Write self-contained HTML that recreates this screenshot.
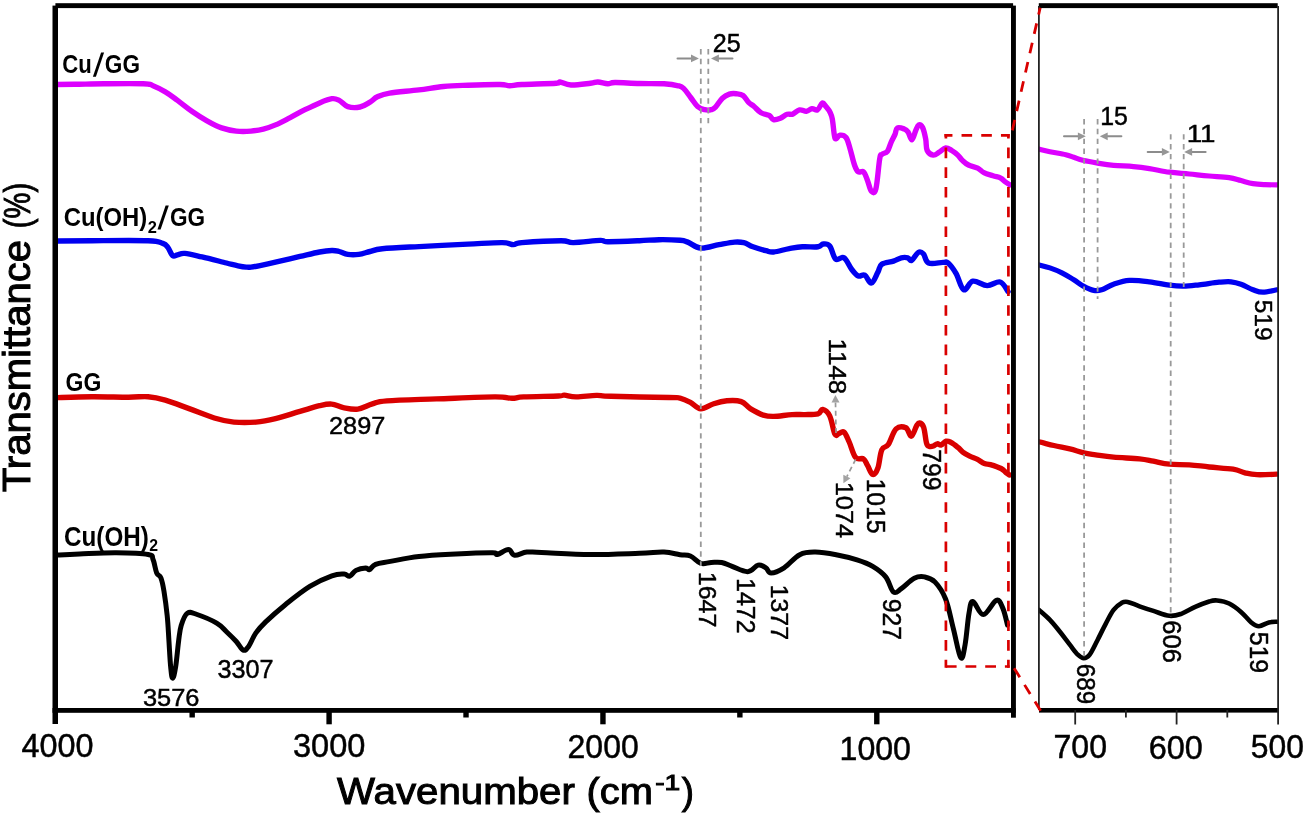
<!DOCTYPE html>
<html><head><meta charset="utf-8"><title>FTIR spectra</title>
<style>
html,body{margin:0;padding:0;background:#fff;}
body{width:1306px;height:815px;overflow:hidden;font-family:"Liberation Sans",sans-serif;}
svg{display:block;will-change:transform;}
</style></head><body>
<svg width="1306" height="815" viewBox="0 0 1306 815">
<defs>
<clipPath id="cl"><rect x="55" y="5" width="957" height="705"/></clipPath>
<clipPath id="cr"><rect x="1039" y="5" width="239" height="705"/></clipPath>
</defs>
<rect width="1306" height="815" fill="#fff"/>
<g clip-path="url(#cl)">
<path d="M56.5,84.5 C59.8,84.5 66.0,84.4 74.6,84.3 C83.1,84.2 91.7,83.9 104.0,83.8 C116.3,83.7 134.4,83.5 143.2,83.8 C152.0,84.1 149.0,84.2 153.0,85.7 C157.0,87.2 160.9,89.3 165.3,91.9 C169.7,94.5 172.7,96.9 177.5,100.4 C182.3,103.9 186.9,107.8 192.2,111.5 C197.5,115.2 201.7,117.8 207.0,120.8 C212.3,123.8 216.3,126.0 221.6,127.9 C226.9,129.8 231.0,130.5 236.3,131.1 C241.6,131.7 246.1,131.5 251.0,131.1 C255.9,130.7 258.9,130.2 263.3,129.1 C267.7,128.0 270.7,127.0 275.5,124.9 C280.3,122.8 284.9,120.3 290.2,117.6 C295.5,114.9 299.7,112.3 305.0,109.7 C310.3,107.1 314.8,104.9 319.6,102.9 C324.4,100.9 328.4,99.2 331.9,98.7 C335.4,98.2 336.3,99.0 339.2,100.4 C342.1,101.8 344.1,105.4 347.8,106.6 C351.5,107.8 356.0,107.8 360.0,107.0 C364.0,106.2 366.9,103.9 370.0,102.1 C373.1,100.3 373.9,98.4 377.4,96.8 C380.9,95.2 382.1,94.3 389.6,93.1 C397.1,91.9 409.3,91.1 419.0,89.9 C428.7,88.7 434.7,87.3 443.5,86.5 C452.3,85.7 457.8,85.6 468.0,85.2 C478.2,84.8 492.4,84.4 499.9,84.5 C507.4,84.6 505.7,85.7 509.7,85.7 C513.7,85.7 513.5,84.9 521.9,84.5 C530.3,84.1 549.3,83.8 556.2,83.3 C563.1,82.8 557.3,81.7 560.0,82.0 C562.7,82.3 565.5,84.8 571.0,85.0 C576.5,85.2 585.7,83.8 590.5,83.3 C595.3,82.8 594.8,81.9 597.9,82.0 C601.0,82.1 604.6,83.7 607.7,83.8 C610.8,83.9 609.3,82.6 615.0,82.5 C620.7,82.4 630.7,83.3 639.5,83.5 C648.3,83.7 657.0,83.4 664.0,83.8 C671.0,84.2 674.7,84.9 678.3,85.8 C681.9,86.7 681.6,86.5 683.8,88.6 C686.0,90.7 688.2,94.3 690.7,97.5 C693.2,100.7 695.1,104.3 697.6,106.5 C700.1,108.7 702.0,109.1 704.5,109.7 C707.0,110.3 709.3,110.2 711.3,109.7 C713.3,109.2 713.5,109.3 715.5,107.2 C717.5,105.1 719.9,100.6 722.4,98.2 C724.9,95.8 726.8,94.9 729.3,94.1 C731.8,93.3 733.7,93.4 736.2,93.7 C738.7,94.0 740.8,93.9 743.0,95.5 C745.2,97.1 746.6,100.4 748.6,102.4 C750.6,104.4 751.9,104.6 754.1,106.5 C756.3,108.4 758.3,111.1 761.0,112.7 C763.7,114.3 767.0,114.2 769.2,115.4 C771.4,116.6 771.4,119.1 773.4,119.6 C775.4,120.1 777.8,119.2 780.3,118.2 C782.8,117.2 784.9,115.0 787.1,114.3 C789.3,113.6 790.5,114.9 792.7,114.1 C794.9,113.3 797.0,110.4 799.5,109.9 C802.0,109.4 804.1,111.5 806.4,111.3 C808.6,111.1 810.0,108.9 812.0,108.6 C814.0,108.3 815.6,110.9 817.5,109.9 C819.4,108.9 820.8,103.6 822.3,103.0 C823.8,102.4 824.7,105.1 826.1,106.8 C827.5,108.5 828.9,110.0 830.0,112.2 C831.1,114.4 831.5,114.8 832.3,119.1 C833.1,123.4 833.8,132.5 834.5,136.0 C835.2,139.5 835.1,138.8 836.1,138.7 C837.1,138.6 838.1,135.4 839.9,135.2 C841.7,135.0 844.2,135.2 846.0,137.5 C847.8,139.8 848.4,143.2 849.9,148.2 C851.4,153.1 853.0,160.7 854.5,165.0 C856.0,169.3 856.7,170.7 858.3,171.9 C859.9,173.1 861.9,170.4 863.6,171.9 C865.3,173.4 866.1,176.9 867.5,180.4 C868.9,183.9 869.8,189.6 871.3,191.1 C872.8,192.6 874.4,194.6 875.9,188.8 C877.4,183.0 878.6,165.1 879.7,158.9 C880.8,152.7 880.6,155.7 882.0,154.3 C883.4,152.9 885.7,153.5 887.4,151.3 C889.1,149.1 889.8,145.1 891.2,142.1 C892.6,139.1 893.9,136.9 895.0,134.4 C896.1,131.9 895.6,129.0 897.3,128.0 C899.0,127.0 902.3,128.3 904.2,129.0 C906.1,129.7 906.7,130.2 908.1,132.1 C909.5,134.0 910.5,140.1 911.9,139.8 C913.3,139.5 914.5,133.3 915.7,130.6 C916.9,127.9 917.6,125.5 918.8,124.9 C920.0,124.3 921.4,125.0 922.6,127.5 C923.8,130.0 924.9,134.9 925.7,139.0 C926.5,143.1 925.8,147.6 927.2,150.5 C928.6,153.4 931.1,154.8 933.3,155.1 C935.5,155.4 937.2,153.3 939.4,152.0 C941.6,150.7 943.4,148.2 945.6,147.9 C947.8,147.6 949.5,149.2 951.7,150.5 C953.9,151.8 955.9,153.3 957.8,155.1 C959.7,156.9 960.5,158.6 962.4,160.4 C964.3,162.2 965.7,163.6 968.5,165.0 C971.3,166.4 974.9,166.7 977.7,168.1 C980.5,169.5 981.1,171.3 983.9,172.7 C986.7,174.1 990.0,174.8 993.0,175.8 C996.0,176.8 998.5,177.0 1000.7,178.1 C1002.9,179.2 1003.6,180.7 1005.3,181.9 C1007.0,183.1 1009.1,184.4 1009.9,184.9" fill="none" stroke="#dc00ff" stroke-width="5.4" stroke-linejoin="round" stroke-linecap="round"/>
<path d="M57.5,241.0 C63.7,240.9 75.5,240.8 91.8,240.7 C108.1,240.6 135.3,240.2 148.1,240.7 C160.9,241.2 159.3,242.2 162.8,243.4 C166.3,244.6 165.9,244.9 167.7,247.1 C169.5,249.3 170.8,254.2 172.6,255.6 C174.4,257.0 175.3,255.3 177.5,254.9 C179.7,254.5 180.5,253.0 184.9,253.4 C189.3,253.8 194.5,255.2 202.0,256.9 C209.5,258.6 220.0,261.4 226.5,263.0 C233.0,264.6 234.5,265.1 238.0,265.8 C241.5,266.5 243.8,266.9 246.1,267.1 C248.4,267.3 248.5,267.4 251.0,267.1 C253.5,266.8 255.6,266.5 260.0,265.6 C264.4,264.7 268.3,263.9 275.5,262.2 C282.7,260.5 292.1,258.2 300.0,256.4 C307.9,254.6 313.9,253.1 319.6,252.0 C325.3,250.9 328.4,250.6 331.9,250.5 C335.4,250.4 336.3,250.8 339.2,251.5 C342.1,252.2 344.3,253.9 347.8,254.4 C351.3,254.9 354.8,254.9 358.8,254.4 C362.8,253.9 365.8,252.5 370.0,251.5 C374.2,250.5 373.5,249.7 382.3,248.8 C391.1,247.9 403.6,247.4 419.0,246.6 C434.4,245.8 453.0,244.8 468.0,244.1 C483.0,243.4 494.1,242.5 502.3,242.6 C510.5,242.7 509.8,244.6 513.3,244.6 C516.8,244.6 513.3,243.3 521.9,242.6 C530.5,241.9 551.8,240.7 561.1,240.7 C570.4,240.7 566.3,242.7 573.4,242.6 C580.5,242.5 594.1,240.6 600.3,240.4 C606.5,240.2 600.6,241.6 607.7,241.7 C614.8,241.8 630.2,241.1 639.5,240.7 C648.8,240.3 651.8,239.8 659.1,239.7 C666.4,239.6 674.8,239.9 680.0,240.3 C685.2,240.7 684.1,240.7 687.8,242.1 C691.5,243.5 695.2,247.6 700.8,248.1 C706.4,248.6 712.9,245.8 719.0,244.7 C725.1,243.6 730.2,242.5 734.7,242.1 C739.2,241.7 740.5,241.9 743.8,242.7 C747.1,243.5 748.9,245.4 752.9,246.8 C756.9,248.2 762.2,249.8 765.9,250.7 C769.6,251.6 769.5,252.4 773.7,252.0 C777.9,251.6 784.1,249.5 789.3,248.6 C794.5,247.7 797.2,247.1 802.4,246.8 C807.6,246.5 814.3,247.3 818.0,246.8 C821.7,246.3 821.1,244.1 823.2,244.0 C825.3,243.9 827.5,243.3 829.7,246.0 C832.0,248.7 833.1,257.0 835.7,259.1 C838.3,261.2 841.1,255.8 844.0,257.7 C846.9,259.6 849.2,266.2 851.8,269.5 C854.4,272.8 856.0,275.0 858.3,276.0 C860.6,277.0 862.4,273.9 864.8,275.2 C867.2,276.5 869.0,283.6 871.4,283.0 C873.8,282.4 876.0,275.5 877.9,272.1 C879.8,268.7 879.0,266.3 881.8,264.3 C884.6,262.3 890.0,262.3 893.5,261.1 C897.0,259.9 898.7,258.4 901.3,257.8 C903.9,257.2 905.9,257.3 907.8,257.8 C909.7,258.3 909.8,261.4 911.7,260.4 C913.6,259.4 916.1,253.7 918.2,252.5 C920.3,251.3 921.5,251.9 923.4,253.8 C925.3,255.7 925.1,261.5 928.6,263.0 C932.1,264.5 939.5,262.4 943.0,262.4 C946.5,262.4 945.9,261.0 948.2,263.0 C950.5,265.0 953.2,268.6 956.0,273.4 C958.8,278.2 960.8,288.4 963.8,289.8 C966.8,291.2 968.7,282.0 972.9,281.2 C977.1,280.4 982.3,285.5 987.2,285.6 C992.1,285.7 996.5,280.9 1000.2,282.0 C1003.9,283.1 1006.6,289.9 1008.0,291.6" fill="none" stroke="#0000f0" stroke-width="5.4" stroke-linejoin="round" stroke-linecap="round"/>
<path d="M57.5,397.6 C63.7,397.4 79.0,396.8 91.8,396.7 C104.6,396.6 118.4,397.2 128.5,397.2 C138.6,397.2 141.5,396.2 148.1,396.7 C154.7,397.2 157.8,397.9 165.3,400.1 C172.8,402.3 181.0,405.7 189.8,408.9 C198.6,412.1 206.4,415.6 214.3,418.0 C222.2,420.4 226.4,421.4 233.9,422.1 C241.4,422.8 248.4,422.7 255.9,422.1 C263.4,421.5 267.6,420.6 275.5,418.7 C283.4,416.8 292.1,413.7 300.0,411.4 C307.9,409.1 313.9,407.0 319.6,405.7 C325.3,404.4 327.3,403.8 331.6,404.1 C335.9,404.4 338.6,406.7 343.3,407.6 C348.0,408.5 352.6,409.8 357.8,409.1 C363.0,408.4 367.2,405.4 372.4,403.9 C377.6,402.4 375.4,401.8 386.9,400.9 C398.4,400.0 417.0,399.6 436.4,398.9 C455.8,398.2 481.0,397.0 494.6,396.9 C508.2,396.8 506.8,398.3 512.0,398.3 C517.2,398.3 515.3,397.3 523.7,396.9 C532.1,396.5 551.3,396.3 558.6,396.0 C565.9,395.7 561.3,394.9 564.4,395.1 C567.5,395.3 570.2,396.8 576.0,396.9 C581.8,397.0 590.1,395.5 596.4,395.4 C602.7,395.3 597.9,395.9 611.0,396.3 C624.1,396.7 656.7,397.2 669.1,397.5 C681.5,397.8 676.2,397.3 680.0,398.2 C683.8,399.1 686.7,400.5 690.4,402.4 C694.1,404.3 696.6,408.7 700.8,408.9 C705.0,409.1 709.1,405.2 713.8,403.7 C718.5,402.2 722.0,401.2 726.9,400.8 C731.8,400.4 737.0,400.2 741.2,401.6 C745.4,403.0 746.3,406.2 750.3,408.6 C754.3,411.0 759.1,413.7 763.3,415.1 C767.5,416.5 768.5,416.5 773.7,416.4 C778.9,416.3 786.4,414.9 792.0,414.6 C797.6,414.3 800.3,414.7 805.0,414.6 C809.7,414.5 814.8,414.7 818.0,413.8 C821.2,412.9 820.6,409.0 822.7,409.4 C824.8,409.8 827.5,411.5 829.7,415.9 C831.9,420.3 833.3,430.9 834.9,434.1 C836.5,437.3 837.2,434.0 838.8,433.6 C840.4,433.2 842.1,430.6 844.0,432.1 C845.9,433.6 847.1,437.4 849.2,442.0 C851.3,446.6 853.1,454.6 855.7,457.6 C858.3,460.6 861.4,457.5 863.5,458.9 C865.6,460.3 865.8,462.6 867.5,465.4 C869.2,468.2 870.8,474.0 872.7,474.5 C874.6,475.0 876.3,472.4 877.9,468.0 C879.5,463.6 879.9,454.0 881.8,449.8 C883.7,445.6 885.7,448.4 888.3,444.6 C890.9,440.8 892.9,431.9 896.1,428.9 C899.3,425.9 903.2,426.5 905.9,427.8 C908.6,429.1 909.4,436.5 911.3,436.2 C913.2,435.9 915.0,428.4 916.5,426.0 C918.0,423.6 918.2,422.8 919.5,423.0 C920.8,423.2 922.3,423.6 923.6,427.2 C924.9,430.8 925.5,439.5 926.5,443.0 C927.5,446.5 928.2,445.9 929.4,446.4 C930.6,446.9 932.0,446.5 933.4,446.0 C934.8,445.5 935.9,444.0 937.3,443.8 C938.7,443.6 939.6,445.5 941.2,445.0 C942.8,444.5 944.3,441.7 946.1,441.2 C947.9,440.7 948.9,441.3 951.0,442.4 C953.1,443.5 955.8,445.7 957.9,447.4 C960.0,449.1 960.7,450.5 962.8,452.1 C964.9,453.7 967.1,454.9 969.7,456.2 C972.3,457.5 974.9,458.1 977.5,459.4 C980.1,460.7 982.1,462.7 984.4,463.6 C986.7,464.5 987.3,463.7 990.3,464.6 C993.3,465.5 998.3,467.1 1001.1,468.5 C1003.9,469.9 1004.5,471.4 1006.0,472.6 C1007.5,473.8 1008.9,474.6 1009.5,475.0" fill="none" stroke="#d90000" stroke-width="5.4" stroke-linejoin="round" stroke-linecap="round"/>
<path d="M57.5,555.0 C61.5,554.8 68.9,554.4 79.5,554.0 C90.1,553.6 104.0,552.7 116.3,552.8 C128.6,552.9 141.5,553.3 148.1,554.5 C154.7,555.7 151.5,556.1 153.0,559.4 C154.5,562.7 155.3,569.6 156.7,572.9 C158.1,576.2 159.6,574.5 160.9,577.8 C162.2,581.1 162.9,584.5 164.0,591.3 C165.1,598.1 166.3,607.0 167.2,615.8 C168.1,624.6 168.3,631.0 168.9,640.3 C169.5,649.6 170.0,660.4 170.7,667.2 C171.4,674.0 171.7,678.2 172.6,678.2 C173.5,678.2 174.5,674.0 175.6,667.2 C176.7,660.4 177.7,647.8 178.7,640.3 C179.7,632.8 179.7,630.5 181.2,625.6 C182.7,620.7 184.4,615.3 187.3,613.3 C190.2,611.3 191.8,612.7 197.1,614.5 C202.4,616.3 211.4,620.0 216.7,623.1 C222.0,626.2 223.0,628.4 226.5,631.7 C230.0,635.0 233.3,638.2 236.3,641.5 C239.3,644.8 241.0,649.2 243.2,650.1 C245.4,651.0 246.3,649.5 248.6,646.4 C250.9,643.3 252.8,637.3 255.9,632.9 C259.0,628.5 260.4,627.0 265.7,621.9 C271.0,616.8 277.4,611.1 285.3,604.7 C293.2,598.3 301.4,591.6 309.8,586.4 C318.2,581.2 325.7,578.0 331.9,575.8 C338.1,573.6 340.9,574.0 344.1,574.1 C347.3,574.2 347.7,576.8 349.8,576.1 C351.9,575.4 353.1,571.9 356.0,570.4 C358.9,568.9 363.4,568.1 365.8,568.0 C368.2,567.9 367.6,570.4 369.4,569.7 C371.2,569.0 371.8,565.8 375.6,564.3 C379.4,562.8 382.5,562.8 390.3,561.4 C398.1,560.0 407.2,557.8 419.0,556.5 C430.8,555.2 442.6,554.7 455.8,554.0 C469.0,553.3 485.0,552.7 492.5,552.8 C500.0,552.9 494.5,555.1 497.4,554.5 C500.3,553.9 505.3,549.5 508.4,549.6 C511.5,549.7 511.3,554.8 514.6,555.2 C517.9,555.7 522.0,552.6 526.8,552.1 C531.6,551.6 530.0,552.1 541.5,552.5 C553.0,552.9 572.9,554.4 590.5,554.5 C608.1,554.6 626.3,553.7 639.5,553.3 C652.7,552.9 656.7,551.8 664.0,552.1 C671.3,552.4 675.2,554.0 680.0,554.7 C684.8,555.4 686.7,554.5 690.4,556.0 C694.1,557.5 697.1,562.1 700.8,563.3 C704.5,564.5 707.4,562.6 711.2,562.5 C715.0,562.4 717.9,561.8 721.7,562.5 C725.5,563.2 727.4,564.7 732.1,566.4 C736.8,568.1 743.0,571.9 747.7,571.7 C752.4,571.5 754.8,565.8 758.1,565.1 C761.4,564.4 763.6,566.4 765.9,567.8 C768.2,569.2 767.8,573.0 771.1,573.0 C774.4,573.0 778.9,571.1 784.1,567.8 C789.3,564.5 794.2,557.5 799.8,554.7 C805.4,551.9 808.8,552.1 815.4,552.1 C822.0,552.1 828.7,553.3 836.2,554.7 C843.7,556.1 850.4,557.8 857.0,559.9 C863.6,562.0 867.5,563.3 872.7,566.4 C877.9,569.5 882.0,572.3 885.7,576.9 C889.4,581.5 890.7,589.9 893.5,592.0 C896.3,594.1 897.6,591.1 901.3,588.6 C905.0,586.1 910.1,580.3 914.3,578.2 C918.5,576.1 921.0,576.2 924.7,576.9 C928.4,577.6 931.3,578.1 935.1,582.1 C938.9,586.1 942.3,590.6 945.6,599.0 C948.9,607.4 950.7,618.4 953.4,628.9 C956.1,639.4 958.6,654.8 960.7,657.6 C962.8,660.4 963.6,652.6 965.1,644.6 C966.6,636.6 967.6,621.0 969.0,613.3 C970.4,605.6 970.3,601.4 972.9,601.6 C975.5,601.8 979.1,614.8 983.3,614.6 C987.5,614.4 992.8,601.5 996.3,600.3 C999.8,599.1 1000.8,603.7 1002.8,608.1 C1004.8,612.5 1006.7,622.0 1007.5,625.0" fill="none" stroke="#000000" stroke-width="5.0" stroke-linejoin="round" stroke-linecap="round"/>
</g>
<g clip-path="url(#cr)">
<path d="M1039.0,149.1 C1041.0,149.6 1045.1,150.7 1049.9,151.7 C1054.7,152.7 1061.5,153.7 1065.8,154.7 C1070.1,155.7 1070.7,156.3 1073.8,157.3 C1076.9,158.3 1078.5,159.3 1082.8,160.3 C1087.1,161.3 1092.2,162.2 1097.7,163.1 C1103.2,164.0 1107.2,164.7 1113.6,165.3 C1120.0,165.9 1127.1,166.0 1133.5,166.6 C1139.9,167.2 1142.9,167.6 1149.4,168.6 C1155.9,169.6 1162.2,171.2 1169.4,172.2 C1176.6,173.2 1182.1,173.3 1189.3,174.0 C1196.5,174.7 1202.0,175.4 1209.2,176.0 C1216.4,176.6 1223.4,176.8 1229.1,177.6 C1234.8,178.4 1236.7,179.5 1241.0,180.6 C1245.3,181.7 1248.7,182.9 1253.0,183.6 C1257.3,184.3 1260.6,184.4 1264.9,184.6 C1269.2,184.8 1274.7,184.8 1276.9,184.8" fill="none" stroke="#dc00ff" stroke-width="5.2" stroke-linejoin="round" stroke-linecap="round"/>
<path d="M1039.0,264.9 C1041.0,265.4 1045.8,266.5 1049.9,267.9 C1054.0,269.3 1057.6,270.7 1061.9,272.8 C1066.2,274.9 1069.9,277.4 1073.8,279.8 C1077.7,282.2 1080.2,284.5 1083.8,286.4 C1087.4,288.3 1090.5,289.8 1093.7,290.4 C1096.9,291.0 1098.1,290.9 1101.7,289.8 C1105.3,288.7 1108.6,285.9 1113.6,284.2 C1118.6,282.5 1123.1,280.8 1129.5,280.4 C1135.9,280.0 1142.2,280.9 1149.4,281.8 C1156.6,282.7 1163.3,284.4 1169.4,285.2 C1175.5,286.0 1177.9,286.3 1183.3,286.2 C1188.7,286.1 1192.8,285.5 1199.2,284.8 C1205.6,284.1 1213.4,282.7 1219.1,282.2 C1224.8,281.7 1227.2,281.4 1231.1,281.8 C1235.0,282.2 1237.1,282.8 1241.0,284.2 C1244.9,285.6 1249.1,288.4 1253.0,289.8 C1256.9,291.2 1258.6,292.2 1262.9,292.2 C1267.2,292.2 1274.4,290.2 1276.9,289.8" fill="none" stroke="#0000f0" stroke-width="5.2" stroke-linejoin="round" stroke-linecap="round"/>
<path d="M1039.0,441.9 C1041.7,442.5 1048.4,444.2 1053.9,445.5 C1059.4,446.8 1064.4,447.6 1069.8,448.9 C1075.2,450.2 1079.1,451.7 1083.8,452.8 C1088.5,453.9 1090.3,454.0 1095.7,454.8 C1101.1,455.6 1105.7,456.5 1113.6,457.2 C1121.5,457.9 1132.3,458.1 1139.5,458.8 C1146.7,459.5 1148.0,460.2 1153.4,461.2 C1158.8,462.2 1162.9,463.6 1169.4,464.2 C1175.9,464.8 1182.1,464.3 1189.3,464.8 C1196.5,465.3 1201.3,466.2 1209.2,467.0 C1217.1,467.8 1226.7,468.2 1233.1,469.2 C1239.5,470.2 1240.7,471.8 1245.0,472.8 C1249.3,473.8 1251.3,474.4 1257.0,474.7 C1262.7,475.0 1273.3,474.3 1276.9,474.2" fill="none" stroke="#d90000" stroke-width="5.3" stroke-linejoin="round" stroke-linecap="round"/>
<path d="M1039.0,609.9 C1041.0,611.7 1046.1,615.9 1049.9,619.8 C1053.7,623.7 1056.3,627.3 1059.9,631.8 C1063.5,636.3 1066.6,640.6 1069.8,644.7 C1073.0,648.8 1075.3,652.3 1077.8,654.7 C1080.3,657.1 1081.7,658.2 1083.8,658.2 C1085.9,658.2 1087.2,658.0 1089.7,654.7 C1092.2,651.4 1094.8,645.3 1097.7,639.7 C1100.6,634.1 1102.8,629.2 1105.7,623.8 C1108.6,618.4 1110.7,613.7 1113.6,609.9 C1116.5,606.1 1119.1,604.3 1121.6,602.9 C1124.1,601.5 1124.4,601.3 1127.6,601.9 C1130.8,602.5 1134.9,604.7 1139.5,606.3 C1144.1,607.9 1148.0,609.2 1153.4,610.9 C1158.8,612.6 1164.4,615.3 1169.4,615.8 C1174.4,616.3 1176.7,615.4 1181.3,613.8 C1185.9,612.2 1190.2,609.1 1195.2,606.9 C1200.2,604.7 1205.3,602.7 1209.2,601.5 C1213.1,600.3 1213.5,600.1 1217.1,600.5 C1220.7,600.9 1224.8,601.4 1229.1,603.5 C1233.4,605.6 1237.1,608.5 1241.0,611.9 C1244.9,615.3 1247.8,619.6 1251.0,622.2 C1254.2,624.8 1255.7,626.2 1258.9,626.2 C1262.1,626.2 1265.7,623.2 1268.9,622.4 C1272.1,621.6 1275.5,621.9 1276.9,621.8" fill="none" stroke="#000000" stroke-width="4.6" stroke-linejoin="round" stroke-linecap="round"/>
</g>
<line x1="700.8" y1="49.0" x2="700.8" y2="566" stroke="#999" stroke-width="1.8" stroke-dasharray="5.4 4.45" stroke-dashoffset="0"/>
<line x1="708.3" y1="49.0" x2="708.3" y2="125" stroke="#999" stroke-width="1.8" stroke-dasharray="5.4 4.45" stroke-dashoffset="0"/>
<line x1="1084.1" y1="119" x2="1084.1" y2="660" stroke="#999" stroke-width="1.8" stroke-dasharray="5.4 4.45" stroke-dashoffset="0"/>
<line x1="1097.6" y1="119" x2="1097.6" y2="299" stroke="#999" stroke-width="1.8" stroke-dasharray="5.4 4.45" stroke-dashoffset="0"/>
<line x1="1170.7" y1="134.2" x2="1170.7" y2="617" stroke="#999" stroke-width="1.8" stroke-dasharray="5.4 4.45" stroke-dashoffset="0"/>
<line x1="1183.7" y1="134.2" x2="1183.7" y2="287" stroke="#999" stroke-width="1.8" stroke-dasharray="5.4 4.45" stroke-dashoffset="0"/>
<line x1="677.5" y1="58.4" x2="692.00" y2="58.40" stroke="#8c8c8c" stroke-width="2.0" stroke-linecap="round"/>
<polygon points="698.90,58.40 691.00,62.30 691.00,54.50" fill="#969696"/>
<line x1="732.5" y1="58.4" x2="717.90" y2="58.40" stroke="#8c8c8c" stroke-width="2.0" stroke-linecap="round"/>
<polygon points="711.00,58.40 718.90,54.50 718.90,62.30" fill="#969696"/>
<line x1="1064" y1="136.3" x2="1078.90" y2="136.30" stroke="#8c8c8c" stroke-width="2.0" stroke-linecap="round"/>
<polygon points="1085.80,136.30 1077.90,140.20 1077.90,132.40" fill="#969696"/>
<line x1="1121.4" y1="136.3" x2="1106.70" y2="136.30" stroke="#8c8c8c" stroke-width="2.0" stroke-linecap="round"/>
<polygon points="1099.80,136.30 1107.70,132.40 1107.70,140.20" fill="#969696"/>
<line x1="1147.7" y1="151.9" x2="1162.90" y2="151.90" stroke="#8c8c8c" stroke-width="2.0" stroke-linecap="round"/>
<polygon points="1169.80,151.90 1161.90,155.80 1161.90,148.00" fill="#969696"/>
<line x1="1205.6" y1="151.9" x2="1191.10" y2="151.90" stroke="#8c8c8c" stroke-width="2.0" stroke-linecap="round"/>
<polygon points="1184.20,151.90 1192.10,148.00 1192.10,155.80" fill="#969696"/>
<line x1="836" y1="433" x2="835.52" y2="402.50" stroke="#999" stroke-width="1.7" stroke-dasharray="5 3.6"/>
<polygon points="835.40,394.90 839.52,402.44 831.52,402.56" fill="#a3a3a3"/>
<line x1="855.7" y1="459.3" x2="846.87" y2="476.54" stroke="#999" stroke-width="1.7" stroke-dasharray="5 3.6"/>
<polygon points="843.40,483.30 843.31,474.71 850.43,478.36" fill="#a3a3a3"/>
<g stroke="#d90000" stroke-width="2.7" fill="none">
<line x1="944.4" y1="135.4" x2="1009.7" y2="135.4" stroke-dasharray="10.6 9.1" stroke-dashoffset="2.55"/>
<line x1="944.4" y1="666.5" x2="1009.7" y2="666.5" stroke-dasharray="10.8 8.9" stroke-dashoffset="18.3"/>
<line x1="945.9" y1="133.9" x2="945.9" y2="667.8" stroke-dasharray="10.6 9.1" stroke-dashoffset="6.0"/>
<line x1="1008.4" y1="133.9" x2="1008.4" y2="667.8" stroke-dasharray="10.6 9.1" stroke-dashoffset="6.0"/>
</g>
<g fill="#000">
<rect x="52.5" y="5.6" width="5.5" height="718.4"/>
<rect x="55.4" y="3.2" width="957.7" height="4.9"/>
<rect x="1011" y="5.6" width="4.9" height="712.1"/>
<rect x="52.5" y="708" width="963.2" height="4.8"/>
<rect x="326.40" y="708" width="5.4" height="16.3"/>
<rect x="600.25" y="708" width="5.4" height="16.3"/>
<rect x="874.10" y="708" width="5.4" height="16.3"/>
<rect x="189.47" y="708" width="5.4" height="9.5"/>
<rect x="463.32" y="708" width="5.4" height="9.5"/>
<rect x="737.17" y="708" width="5.4" height="9.5"/>
<rect x="1038.8" y="3.2" width="238.9" height="4.9"/>
<rect x="1039" y="708" width="240" height="4.6"/>
</g>
<g stroke="#222" stroke-width="1.8">
<line x1="1038.9" y1="6" x2="1038.9" y2="710"/>
<line x1="1278.1" y1="6" x2="1278.1" y2="724.5"/>
<line x1="1075.20" y1="710" x2="1075.20" y2="724.5"/>
<line x1="1176.60" y1="710" x2="1176.60" y2="724.5"/>
<line x1="1125.90" y1="710" x2="1125.90" y2="717.5"/>
<line x1="1227.30" y1="710" x2="1227.30" y2="717.5"/>
</g>
<line x1="1040.2" y1="7.7" x2="1011.2" y2="135.4" stroke="#d90000" stroke-width="2.8" stroke-dasharray="10.77 9.02" stroke-dashoffset="3.69"/>
<line x1="1040.6" y1="710.7" x2="1012.5" y2="665.5" stroke="#d90000" stroke-width="2.8" stroke-dasharray="10.7 9.0"/>
<g font-family="Liberation Sans, sans-serif" fill="#000">
<g transform="matrix(1.0124 0 0 1.0531 30.38 492.12)"><text x="0" y="0" font-size="38" font-weight="normal" stroke="#000" stroke-width="1.0" transform="rotate(-90)">Transmittance</text></g>
<g transform="matrix(0.9567 0 0 0.7670 30.10 228.18)"><text x="0" y="0" font-size="38" font-weight="normal" stroke="#000" stroke-width="1.0" transform="rotate(-90)">(%)</text></g>
<g transform="matrix(1.0878 0 0 1.0022 337.05 803.53)"><text x="0" y="0" font-size="37" font-weight="normal" stroke="#000" stroke-width="1.0">Wavenumber</text></g>
<g transform="matrix(1.0776 0 0 0.9744 586.54 804.14)"><text x="0" y="0" font-size="37" font-weight="normal" stroke="#000" stroke-width="1.0">(cm</text></g>
<g transform="matrix(1.2238 0 0 0.9678 655.21 790.45)"><text x="0" y="0" font-size="23" font-weight="normal" stroke="#000" stroke-width="1.0">-1</text></g>
<g transform="matrix(0.9911 0 0 1.0184 681.70 803.97)"><text x="0" y="0" font-size="37" font-weight="normal" stroke="#000" stroke-width="1.0">)</text></g>
<g transform="matrix(1.0441 0 0 1.0767 21.50 757.35)"><text x="0" y="0" font-size="31" font-weight="normal" stroke="#000" stroke-width="0.45">4000</text></g>
<g transform="matrix(1.0502 0 0 1.0589 292.97 757.44)"><text x="0" y="0" font-size="31" font-weight="normal" stroke="#000" stroke-width="0.45">3000</text></g>
<g transform="matrix(1.0326 0 0 1.0533 567.57 757.74)"><text x="0" y="0" font-size="31" font-weight="normal" stroke="#000" stroke-width="0.45">2000</text></g>
<g transform="matrix(1.0360 0 0 1.0767 839.52 759.61)"><text x="0" y="0" font-size="31" font-weight="normal" stroke="#000" stroke-width="0.45">1000</text></g>
<g transform="matrix(1.0354 0 0 1.0493 1053.45 758.35)"><text x="0" y="0" font-size="31" font-weight="normal" stroke="#000" stroke-width="0.45">700</text></g>
<g transform="matrix(1.0470 0 0 1.0664 1148.65 759.04)"><text x="0" y="0" font-size="31" font-weight="normal" stroke="#000" stroke-width="0.45">600</text></g>
<g transform="matrix(1.0282 0 0 1.0542 1250.71 757.73)"><text x="0" y="0" font-size="31" font-weight="normal" stroke="#000" stroke-width="0.45">500</text></g>
<g transform="matrix(0.9214 0 0 1.1068 62.34 72.70)"><text x="0" y="0" font-size="24" font-weight="bold">Cu</text></g>
<g transform="matrix(0.9410 0 0 1.1068 104.83 72.70)"><text x="0" y="0" font-size="24" font-weight="bold">GG</text></g>
<g transform="matrix(0.9945 0 0 1.1068 63.65 226.22)"><text x="0" y="0" font-size="24" font-weight="bold">Cu(OH)</text></g>
<g transform="matrix(0.9953 0 0 1.0252 147.81 232.70)"><text x="0" y="0" font-size="16.5" font-weight="bold">2</text></g>
<g transform="matrix(0.9410 0 0 1.1068 170.05 226.22)"><text x="0" y="0" font-size="24" font-weight="bold">GG</text></g>
<g transform="matrix(0.9582 0 0 1.1127 65.51 391.00)"><text x="0" y="0" font-size="24" font-weight="bold">GG</text></g>
<g transform="matrix(1.0106 0 0 1.1429 64.06 545.60)"><text x="0" y="0" font-size="24" font-weight="bold">Cu(OH)</text></g>
<g transform="matrix(0.9602 0 0 1.0185 149.24 551.41)"><text x="0" y="0" font-size="16.5" font-weight="bold">2</text></g>
<g transform="matrix(1.0556 0 0 1.0120 328.97 433.93)"><text x="0" y="0" font-size="24" font-weight="normal" stroke="#000" stroke-width="0.45">2897</text></g>
<g transform="matrix(1.0601 0 0 1.0343 142.89 705.94)"><text x="0" y="0" font-size="24" font-weight="normal" stroke="#000" stroke-width="0.45">3576</text></g>
<g transform="matrix(1.0514 0 0 1.0637 217.50 677.75)"><text x="0" y="0" font-size="24" font-weight="normal" stroke="#000" stroke-width="0.45">3307</text></g>
<g transform="matrix(1.0456 0 0 1.0463 712.81 52.35)"><text x="0" y="0" font-size="24" font-weight="normal" stroke="#000" stroke-width="0.45">25</text></g>
<g transform="matrix(1.0375 0 0 1.0637 1100.24 124.52)"><text x="0" y="0" font-size="24" font-weight="normal" stroke="#000" stroke-width="0.45">15</text></g>
<g transform="matrix(1.1555 0 0 0.9826 1186.65 141.55)"><text x="0" y="0" font-size="24" font-weight="normal" stroke="#000" stroke-width="0.45">11</text></g>
<g transform="matrix(1.0185 0 0 1.0802 829.10 338.51)"><text x="0" y="0" font-size="24" font-weight="normal" stroke="#000" stroke-width="0.45" transform="rotate(90)">1148</text></g>
<g transform="matrix(1.0024 0 0 1.0589 836.31 481.73)"><text x="0" y="0" font-size="24" font-weight="normal" stroke="#000" stroke-width="0.45" transform="rotate(90)">1074</text></g>
<g transform="matrix(1.0621 0 0 1.0312 867.03 478.56)"><text x="0" y="0" font-size="24" font-weight="normal" stroke="#000" stroke-width="0.45" transform="rotate(90)">1015</text></g>
<g transform="matrix(1.0710 0 0 1.0313 923.11 449.27)"><text x="0" y="0" font-size="24" font-weight="normal" stroke="#000" stroke-width="0.45" transform="rotate(90)">799</text></g>
<g transform="matrix(1.0185 0 0 1.0421 698.51 571.75)"><text x="0" y="0" font-size="24" font-weight="normal" stroke="#000" stroke-width="0.45" transform="rotate(90)">1647</text></g>
<g transform="matrix(1.0352 0 0 1.0421 736.52 578.05)"><text x="0" y="0" font-size="24" font-weight="normal" stroke="#000" stroke-width="0.45" transform="rotate(90)">1472</text></g>
<g transform="matrix(1.0024 0 0 1.0402 770.58 584.50)"><text x="0" y="0" font-size="24" font-weight="normal" stroke="#000" stroke-width="0.45" transform="rotate(90)">1377</text></g>
<g transform="matrix(1.0710 0 0 1.0340 883.11 598.77)"><text x="0" y="0" font-size="24" font-weight="normal" stroke="#000" stroke-width="0.45" transform="rotate(90)">927</text></g>
<g transform="matrix(1.0024 0 0 1.0215 1255.17 299.68)"><text x="0" y="0" font-size="24" font-weight="normal" stroke="#000" stroke-width="0.45" transform="rotate(90)">519</text></g>
<g transform="matrix(1.1103 0 0 1.0097 1076.75 663.81)"><text x="0" y="0" font-size="24" font-weight="normal" stroke="#000" stroke-width="0.45" transform="rotate(90)">689</text></g>
<g transform="matrix(1.1090 0 0 1.0627 1163.36 620.34)"><text x="0" y="0" font-size="24" font-weight="normal" stroke="#000" stroke-width="0.45" transform="rotate(90)">606</text></g>
<g transform="matrix(1.0898 0 0 1.0350 1250.07 631.72)"><text x="0" y="0" font-size="24" font-weight="normal" stroke="#000" stroke-width="0.45" transform="rotate(90)">519</text></g>
<polygon points="101.1,52.4 104.1,52.4 95.9,76.7 92.9,76.7"/>
<polygon points="165.6,205.5 168.8,205.5 160.6,229.6 157.5,229.6"/>
</g>
</svg>
</body></html>
